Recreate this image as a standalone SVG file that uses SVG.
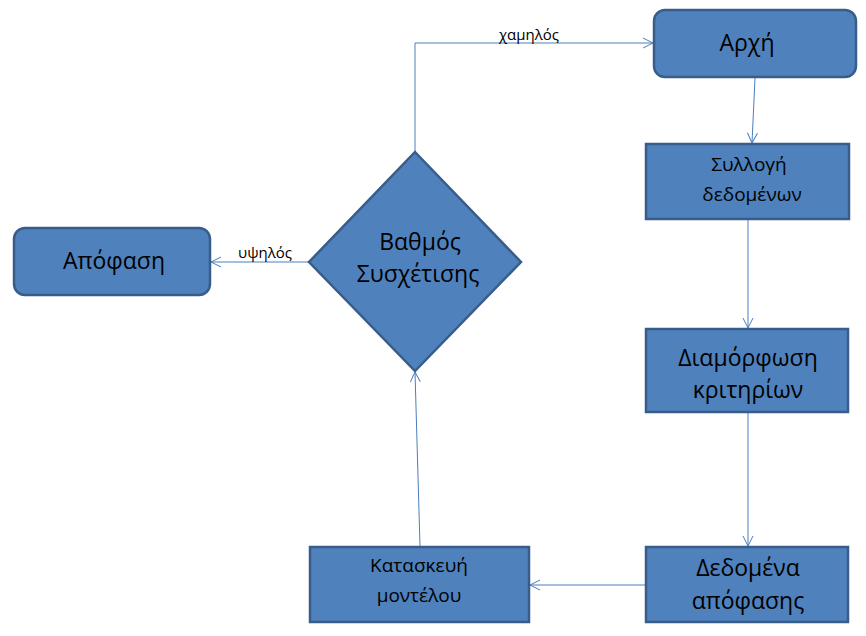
<svg xmlns="http://www.w3.org/2000/svg" width="866" height="636" viewBox="0 0 866 636">
<style>
.n{fill:#4f81bd;stroke:#385d8a;stroke-width:2.5}
.t{font-family:"Open Sans","Liberation Sans",sans-serif;fill:#000;text-anchor:middle}
.b{font-size:23px}
.s{font-size:19px}
.l{font-family:"Open Sans","Liberation Sans",sans-serif;font-size:15px;fill:#000;text-anchor:middle}
.c{fill:none;stroke:#4a7ebb;stroke-width:1;marker-end:url(#a)}
</style>
<defs>
<marker id="a" viewBox="0 0 12 12" refX="11" refY="6" markerWidth="12" markerHeight="12" markerUnits="userSpaceOnUse" orient="auto">
<path d="M1,1 L11,6 L1,11" fill="none" stroke="#4a7ebb" stroke-width="1"/>
</marker>
</defs>
<rect width="866" height="636" fill="#fff"/>
<g id="connectors">
<path class="c" d="M415,152 V43 H653"/>
<path class="c" d="M310,262 H211"/>
<path class="c" d="M755,78 L752,143"/>
<path class="c" d="M748,220 V328"/>
<path class="c" d="M748,413 V546"/>
<path class="c" d="M646,585 H530"/>
<path class="c" d="M420,546 L415,372"/>
<text class="l" x="529" y="40">χαμηλός</text>
<text class="l" x="265" y="258">υψηλός</text>
</g>
<g id="arxi">
<rect class="n" x="654" y="10" width="202" height="67" rx="11"/>
<text class="t b" x="747" y="51">Αρχή</text>
</g>
<g id="syllogi">
<rect class="n" x="646" y="144" width="203" height="75"/>
<text class="t s" x="749" y="171">Συλλογή</text>
<text class="t s" x="752" y="201">δεδομένων</text>
</g>
<g id="diamorfosi">
<rect class="n" x="646" y="329" width="202" height="83"/>
<text class="t b" x="748" y="366">Διαμόρφωση</text>
<text class="t b" x="748" y="398">κριτηρίων</text>
</g>
<g id="dedomena">
<rect class="n" x="646" y="547" width="202" height="75"/>
<text class="t b" x="748" y="576">Δεδομένα</text>
<text class="t b" x="748" y="609">απόφασης</text>
</g>
<g id="kataskevi">
<rect class="n" x="310" y="547" width="219" height="75"/>
<text class="t s" x="419" y="572">Κατασκευή</text>
<text class="t s" x="419" y="602">μοντέλου</text>
</g>
<g id="apofasi">
<rect class="n" x="14" y="228" width="196" height="67" rx="11"/>
<text class="t b" x="114" y="269">Απόφαση</text>
</g>
<g id="vathmos">
<polygon class="n" points="415,152 521,262 415,371 309,262"/>
<text class="t b" x="420" y="250">Βαθμός</text>
<text class="t b" x="418" y="282">Συσχέτισης</text>
</g>
</svg>
